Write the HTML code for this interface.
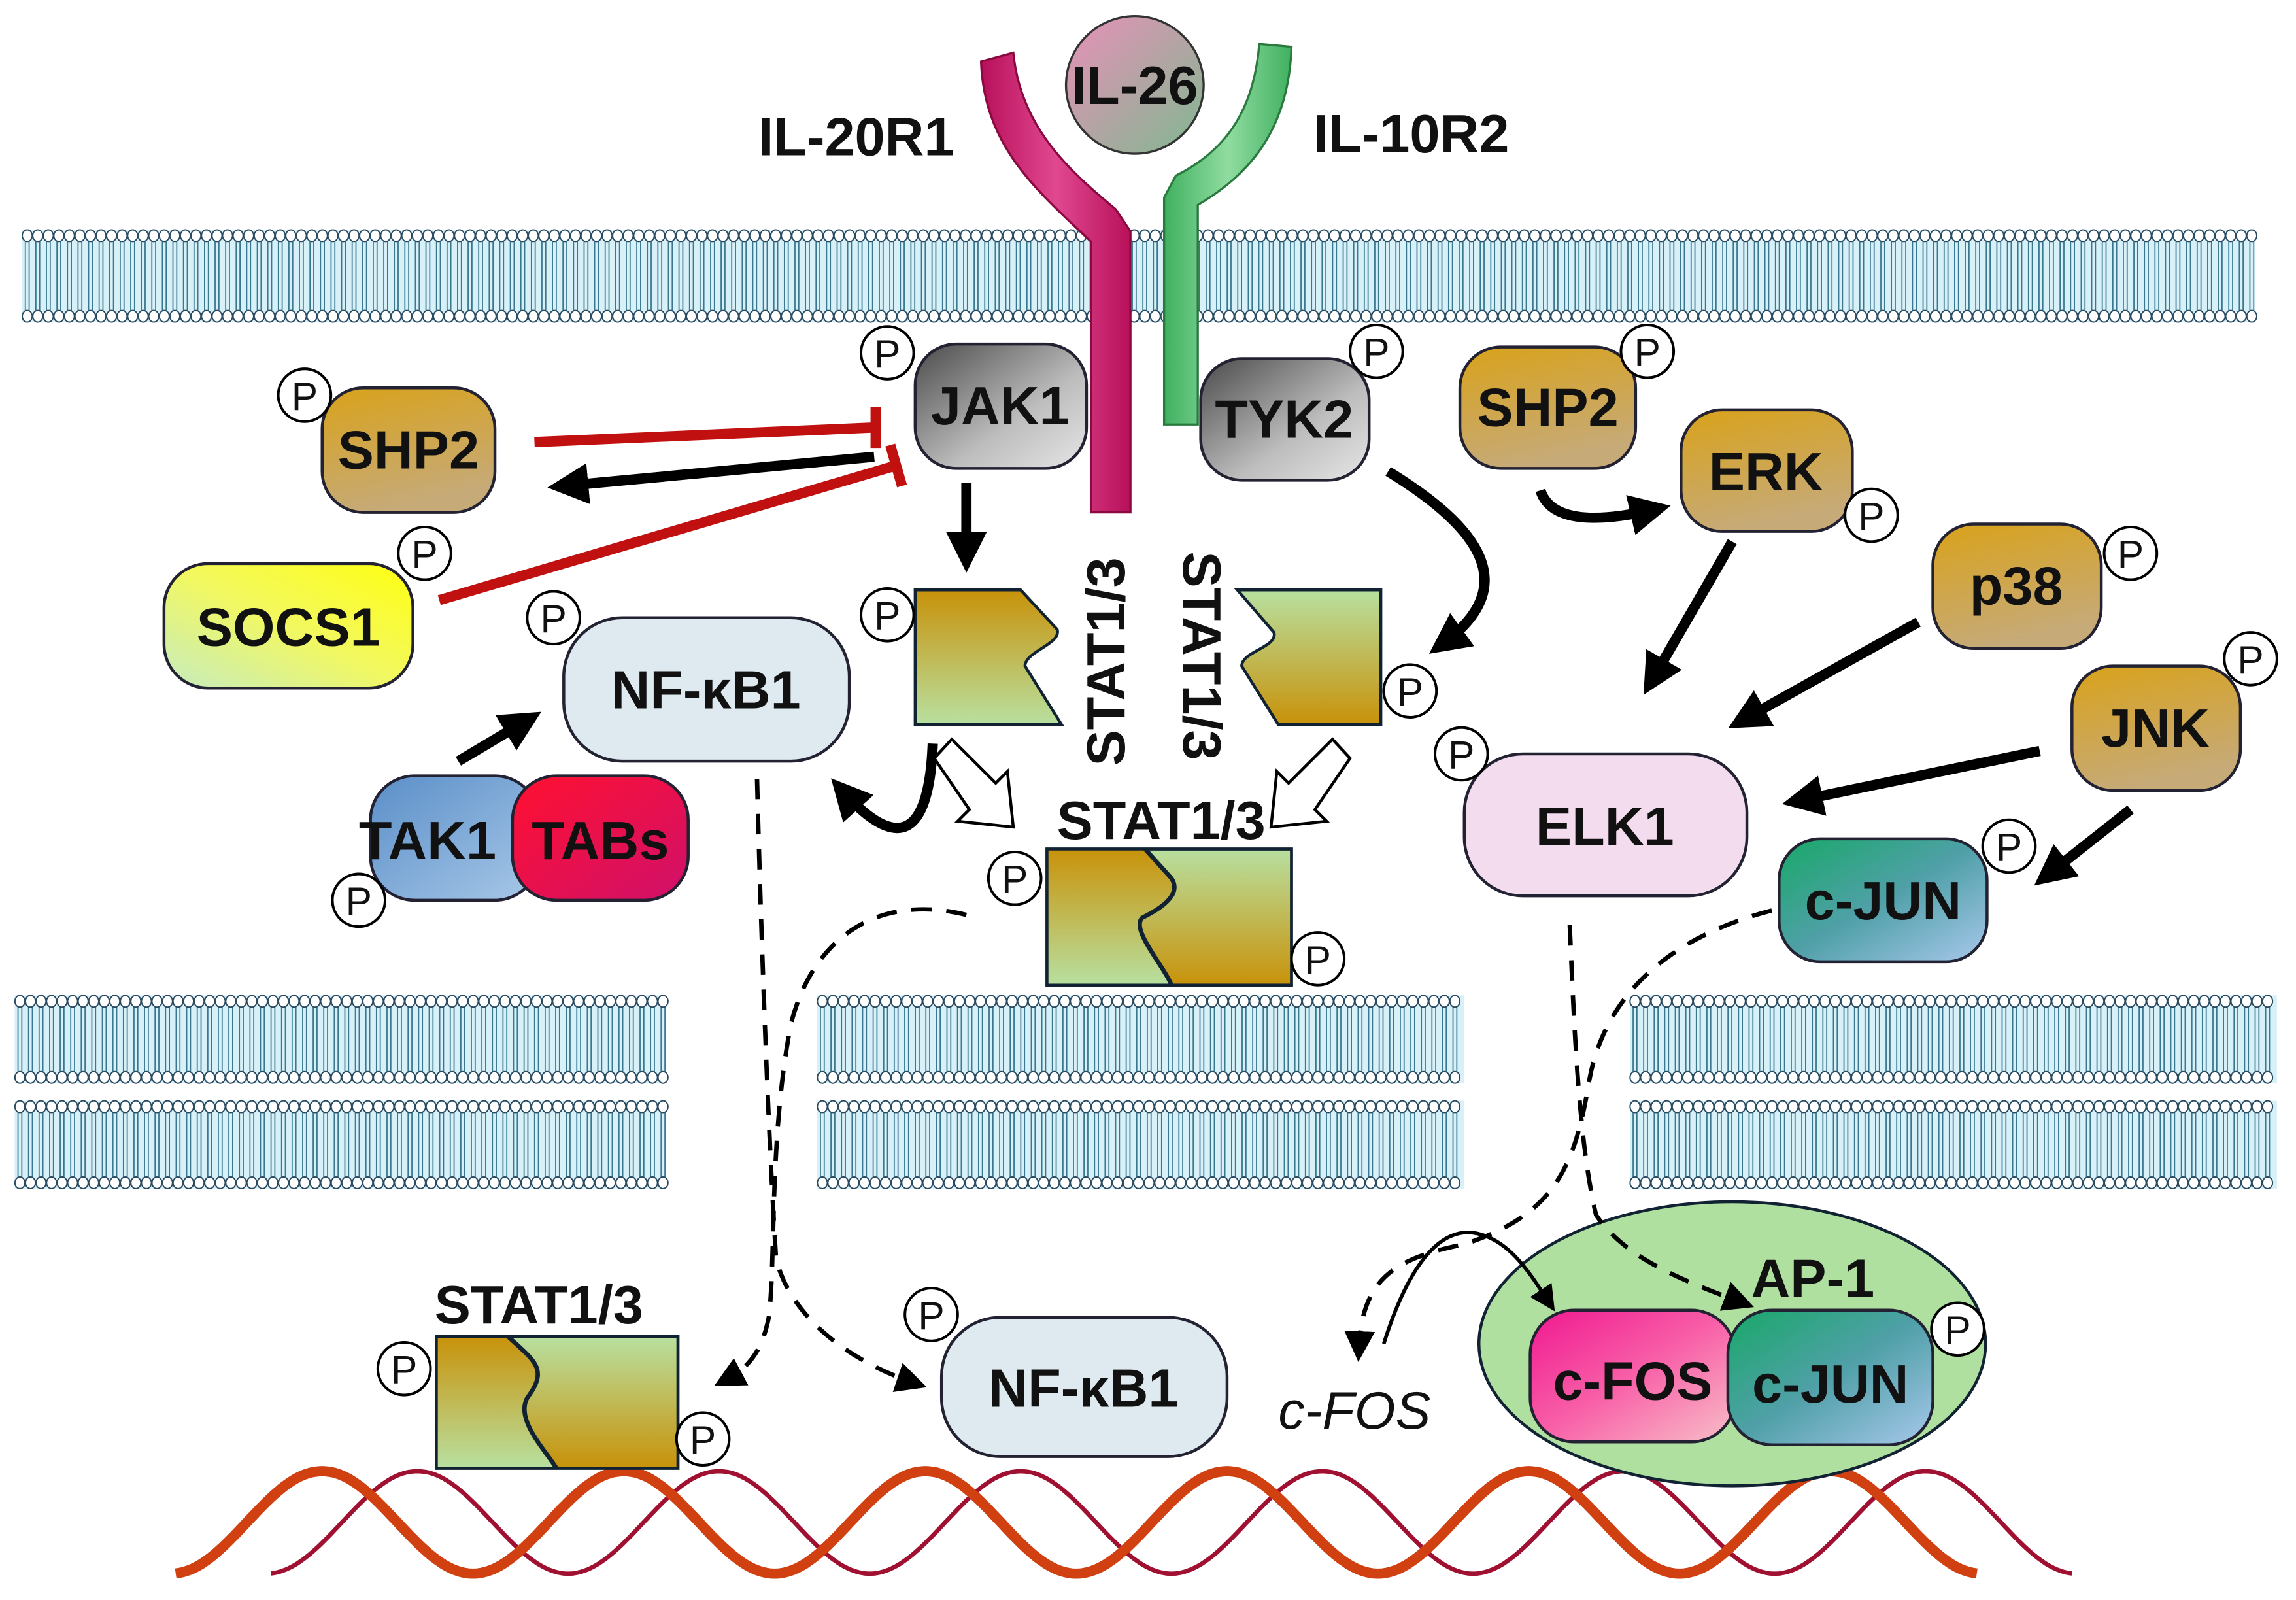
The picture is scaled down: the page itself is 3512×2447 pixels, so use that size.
<!DOCTYPE html>
<html><head><meta charset="utf-8"><style>
html,body{margin:0;padding:0;background:#fff}
svg{display:block}
text{font-family:"Liberation Sans",Arial,sans-serif}
.b{font-weight:bold;font-size:37px;fill:#111}
.p{font-size:27px;fill:#111}
</style></head><body>
<svg id="s" width="3512" height="2447" viewBox="0 0 1568 1093" preserveAspectRatio="none" xmlns="http://www.w3.org/2000/svg">
<defs>
<linearGradient id="gold" x1="0" y1="0" x2="0.3" y2="1"><stop offset="0" stop-color="#d9a21a"/><stop offset="1" stop-color="#c6aa78"/></linearGradient>
<linearGradient id="gray" x1="0" y1="0" x2="1" y2="1"><stop offset="0" stop-color="#4a4a4a"/><stop offset="0.6" stop-color="#bdbdbd"/><stop offset="1" stop-color="#e6e6e6"/></linearGradient>
<linearGradient id="yel" x1="1" y1="0" x2="0" y2="1"><stop offset="0" stop-color="#ffff10"/><stop offset="0.5" stop-color="#f2f860"/><stop offset="1" stop-color="#c6ecc0"/></linearGradient>
<linearGradient id="blu" x1="0" y1="0" x2="1" y2="1"><stop offset="0" stop-color="#5a8ec8"/><stop offset="1" stop-color="#a8c8e8"/></linearGradient>
<linearGradient id="red" x1="0" y1="0" x2="1" y2="1"><stop offset="0" stop-color="#ff1030"/><stop offset="1" stop-color="#d0106a"/></linearGradient>
<linearGradient id="teal" x1="0" y1="0" x2="1" y2="1"><stop offset="0" stop-color="#18a868"/><stop offset="0.5" stop-color="#50a0a8"/><stop offset="1" stop-color="#a8c8ec"/></linearGradient>
<linearGradient id="pink" x1="0" y1="0" x2="1" y2="1"><stop offset="0" stop-color="#f01890"/><stop offset="0.5" stop-color="#f860a8"/><stop offset="1" stop-color="#f8c0c8"/></linearGradient>
<linearGradient id="sgA" x1="0" y1="0" x2="0" y2="1"><stop offset="0" stop-color="#c8920a"/><stop offset="1" stop-color="#b8e0a0"/></linearGradient>
<linearGradient id="sgB" x1="0" y1="0" x2="0" y2="1"><stop offset="0" stop-color="#b8e0a0"/><stop offset="1" stop-color="#c8920a"/></linearGradient>
<linearGradient id="mag" x1="0" y1="0" x2="1" y2="0"><stop offset="0" stop-color="#b8105a"/><stop offset="0.5" stop-color="#e04890"/><stop offset="1" stop-color="#b8105a"/></linearGradient>
<linearGradient id="grn" x1="0" y1="0" x2="1" y2="0"><stop offset="0" stop-color="#40b060"/><stop offset="0.5" stop-color="#90dca0"/><stop offset="1" stop-color="#40b060"/></linearGradient>
<linearGradient id="il26" x1="0" y1="0" x2="1" y2="1"><stop offset="0" stop-color="#e890b8"/><stop offset="1" stop-color="#80b890"/></linearGradient>
<marker id="ah" viewBox="0 0 10 10" refX="6" refY="5" markerWidth="4" markerHeight="4" orient="auto"><path d="M0,0 L10,5 L0,10 z" fill="#000"/></marker>
<marker id="ahs" viewBox="0 0 10 10" refX="6" refY="5" markerWidth="7" markerHeight="7" orient="auto"><path d="M0,0 L10,5 L0,10 z" fill="#000"/></marker>
</defs>
<g id="mem"></g>
<g id="dna"></g>

<!-- AP-1 ellipse (behind arrows) -->
<ellipse cx="1183" cy="918" rx="173" ry="97" fill="#b0e0a0" stroke="#123" stroke-width="2"/>

<!-- receptors -->
<path d="M670,42 L692,36 C697,88 732,118 762,143 L772,158 L772,350 L745,350 L745,165 C708,130 672,100 670,42 z" fill="url(#mag)" stroke="#8a0a40" stroke-width="1.5"/>
<path d="M882,32 L860,30 C856,80 833,105 803,120 L795,135 L795,290 L818,290 L818,140 C852,120 880,90 882,32 z" fill="url(#grn)" stroke="#2a7a40" stroke-width="1.5"/>
<circle cx="775" cy="58" r="47" fill="url(#il26)" stroke="#333" stroke-width="1.5"/>
<text class="b" x="775" y="71" text-anchor="middle">IL-26</text>
<text class="b" x="518" y="106">IL-20R1</text>
<text class="b" x="897" y="104">IL-10R2</text>

<g stroke="#c01010" stroke-width="7" fill="none">
<line x1="365" y1="302" x2="598" y2="292"/><line x1="598" y1="278" x2="598" y2="306"/>
<line x1="300" y1="410" x2="612" y2="318"/><line x1="608" y1="304" x2="616" y2="332"/>
</g>
<g stroke="#000" stroke-width="7" fill="none">
<line x1="597" y1="312" x2="385" y2="332" marker-end="url(#ah)"/>
<line x1="660" y1="330" x2="660" y2="380" marker-end="url(#ah)"/>
<path d="M948,322 C1010,360 1040,400 985,440" marker-end="url(#ah)"/>
<path d="M637,508 C635,560 620,590 575,540" marker-end="url(#ah)"/>
<line x1="313" y1="520" x2="360" y2="492" marker-end="url(#ah)"/>
<path d="M1052,335 C1060,360 1100,355 1130,348" marker-end="url(#ah)"/>
<line x1="1183" y1="370" x2="1128" y2="465" marker-end="url(#ah)"/>
<line x1="1310" y1="425" x2="1190" y2="492" marker-end="url(#ah)"/>
<line x1="1393" y1="513" x2="1228" y2="547" marker-end="url(#ah)"/>
<line x1="1455" y1="553" x2="1398" y2="598" marker-end="url(#ah)"/>
</g>
<path d="M638,518 L650,505 L680,535 L688,527 L692,565 L654,561 L662,553 z" fill="#fff" stroke="#000" stroke-width="2"/>
<path d="M922,518 L910,505 L880,535 L872,527 L868,565 L906,561 L898,553 z" fill="#fff" stroke="#000" stroke-width="2"/>

<g stroke="#000" stroke-width="3" fill="none" stroke-dasharray="14,10">
<path d="M517,532 C520,650 525,780 530,860 C540,900 580,930 625,945" marker-end="url(#ahs)"/>
<path d="M660,625 C600,610 555,640 540,700 C525,780 530,860 525,900 C520,925 510,935 495,943" marker-end="url(#ahs)"/>
<path d="M1072,632 C1075,700 1078,780 1090,830 C1110,860 1150,875 1190,890" marker-end="url(#ahs)"/>
<path d="M1210,622 C1140,640 1095,680 1085,740 C1075,800 1060,830 1000,850 C950,860 930,875 928,922" marker-end="url(#ahs)"/>
</g>
<path d="M945,918 C960,870 980,840 1005,842 C1030,845 1045,870 1058,890" stroke="#000" stroke-width="2.5" fill="none" marker-end="url(#ahs)"/>

<rect x="625" y="235" width="117" height="85" rx="28" fill="url(#gray)" stroke="#223" stroke-width="2"/>
<text class="b" x="683" y="290" text-anchor="middle">JAK1</text>
<rect x="820" y="245" width="115" height="83" rx="28" fill="url(#gray)" stroke="#223" stroke-width="2"/>
<text class="b" x="877" y="299" text-anchor="middle">TYK2</text>
<rect x="220" y="265" width="118" height="85" rx="28" fill="url(#gold)" stroke="#223" stroke-width="2"/>
<text class="b" x="279" y="320" text-anchor="middle">SHP2</text>
<rect x="112" y="385" width="170" height="85" rx="30" fill="url(#yel)" stroke="#223" stroke-width="2"/>
<text class="b" x="197" y="441" text-anchor="middle">SOCS1</text>
<rect x="385" y="422" width="195" height="98" rx="40" fill="#dfe9f0" stroke="#223" stroke-width="2"/>
<text class="b" x="482" y="484" text-anchor="middle">NF-κB1</text>
<rect x="253" y="530" width="115" height="85" rx="30" fill="url(#blu)" stroke="#223" stroke-width="2"/>
<rect x="350" y="530" width="120" height="85" rx="30" fill="url(#red)" stroke="#223" stroke-width="2"/>
<text class="b" x="292" y="587" text-anchor="middle">TAK1</text>
<text class="b" x="410" y="587" text-anchor="middle">TABs</text>
<rect x="997" y="237" width="120" height="83" rx="28" fill="url(#gold)" stroke="#223" stroke-width="2"/>
<text class="b" x="1057" y="291" text-anchor="middle">SHP2</text>
<rect x="1148" y="280" width="117" height="83" rx="28" fill="url(#gold)" stroke="#223" stroke-width="2"/>
<text class="b" x="1206" y="335" text-anchor="middle">ERK</text>
<rect x="1320" y="358" width="115" height="85" rx="28" fill="url(#gold)" stroke="#223" stroke-width="2"/>
<text class="b" x="1377" y="413" text-anchor="middle">p38</text>
<rect x="1415" y="455" width="115" height="85" rx="28" fill="url(#gold)" stroke="#223" stroke-width="2"/>
<text class="b" x="1472" y="510" text-anchor="middle">JNK</text>
<rect x="1000" y="515" width="193" height="97" rx="40" fill="#f4dcef" stroke="#223" stroke-width="2"/>
<text class="b" x="1096" y="577" text-anchor="middle">ELK1</text>
<rect x="1215" y="573" width="142" height="84" rx="28" fill="url(#teal)" stroke="#223" stroke-width="2"/>
<text class="b" x="1286" y="628" text-anchor="middle">c-JUN</text>

<path d="M625,403 L697,403 L722,430 C725,440 700,445 700,455 L725,495 L625,495 z" fill="url(#sgA)" stroke="#123" stroke-width="2"/>
<path d="M943,403 L845,403 L870,432 C873,442 848,445 848,455 L873,495 L943,495 z" fill="url(#sgB)" stroke="#123" stroke-width="2"/>
<text class="b" transform="translate(768,452) rotate(-90)" text-anchor="middle">STAT1/3</text>
<text class="b" transform="translate(808,448) rotate(90)" text-anchor="middle">STAT1/3</text>
<text class="b" x="793" y="573" text-anchor="middle" font-size="38">STAT1/3</text>
<rect x="715" y="580" width="167" height="93" fill="url(#sgB)" stroke="#123" stroke-width="2"/>
<path d="M715,580 L782,580 L800,600 C808,612 790,622 780,627 C772,635 795,660 800,673 L715,673 z" fill="url(#sgA)"/>
<path d="M782,580 L800,600 C808,612 790,622 780,627 C772,635 795,660 800,673" fill="none" stroke="#123" stroke-width="3"/>
<rect x="715" y="580" width="167" height="93" fill="none" stroke="#123" stroke-width="2"/>
<text class="b" x="368" y="904" text-anchor="middle">STAT1/3</text>
<rect x="298" y="913" width="165" height="90" fill="url(#sgB)" stroke="#123" stroke-width="2"/>
<path d="M298,913 L347,913 C365,930 375,935 360,955 C352,970 372,990 380,1003 L298,1003 z" fill="url(#sgA)"/>
<path d="M347,913 C365,930 375,935 360,955 C352,970 372,990 380,1003" fill="none" stroke="#123" stroke-width="3"/>
<rect x="298" y="913" width="165" height="90" fill="none" stroke="#123" stroke-width="2"/>
<rect x="643" y="900" width="195" height="95" rx="40" fill="#dfe9f0" stroke="#223" stroke-width="2"/>
<text class="b" x="740" y="961" text-anchor="middle">NF-κB1</text>
<text x="925" y="976" text-anchor="middle" font-size="36" font-style="italic" fill="#111">c-FOS</text>
<text class="b" x="1238" y="886" text-anchor="middle">AP-1</text>
<rect x="1045" y="895" width="140" height="90" rx="30" fill="url(#pink)" stroke="#223" stroke-width="2"/>
<rect x="1180" y="895" width="140" height="92" rx="30" fill="url(#teal)" stroke="#223" stroke-width="2"/>
<text class="b" x="1115" y="956" text-anchor="middle">c-FOS</text>
<text class="b" x="1250" y="958" text-anchor="middle">c-JUN</text>
<g id="ps"></g>
</svg>
<script>
var NS="http://www.w3.org/2000/svg",s=document.getElementById("s");
function el(p,t,a){var e=document.createElementNS(NS,t);for(var k in a)e.setAttribute(k,a[k]);p.appendChild(e);return e;}
var mem=document.getElementById("mem");
function band(x1,x2,y1,y2){
 el(mem,"rect",{x:x1,y:y1,width:x2-x1,height:y2-y1,fill:"#d8f0f8"});
 var d="";
 for(var x=x1+3.6;x<x2-2;x+=7.2){
  d+="M"+(x-1.3)+","+(y1+8)+"V"+(y2-8)+"M"+(x+1.3)+","+(y1+8)+"V"+(y2-8);
 }
 el(mem,"path",{d:d,stroke:"#3a7890","stroke-width":0.8,fill:"none"});
 for(var x=x1+3.6;x<x2-2;x+=7.2){
  el(mem,"ellipse",{cx:x,cy:y1+4,rx:3.4,ry:4,fill:"#fff",stroke:"#2a4a60","stroke-width":0.9});
  el(mem,"ellipse",{cx:x,cy:y2-4,rx:3.4,ry:4,fill:"#fff",stroke:"#2a4a60","stroke-width":0.9});
 }
}
band(15,1540,157,220);
[[10,455],[558,1000],[1113,1555]].forEach(function(r){band(r[0],r[1],680,740);band(r[0],r[1],752,812);});
var dna=document.getElementById("dna");
function wave(x0,x1,xc,col,w){
 var d="",P=206;
 for(var x=x0;x<=x1;x+=2){var y=1040-35*Math.cos(2*Math.PI*(x-xc)/P);d+=(x==x0?"M":"L")+x+","+y.toFixed(1);}
 el(dna,"path",{d:d,stroke:col,"stroke-width":w,fill:"none"});
}
wave(185,1415,285,"#a01030",3);
wave(120,1350,220,"#d04010",7);
var ps=document.getElementById("ps");
[[606,241],[940,240],[208,270],[290,378],[378,422],[245,615],[606,420],[963,472],[693,600],[900,655],[1125,240],[1278,352],[1455,378],[1537,450],[998,515],[1372,578],[1337,908],[276,935],[480,983],[636,898]].forEach(function(p){
 el(ps,"circle",{cx:p[0],cy:p[1],r:18,fill:"#fff",stroke:"#000","stroke-width":1.8});
 var t=el(ps,"text",{x:p[0],y:p[1]+10,"text-anchor":"middle","class":"p"});t.textContent="P";
});
</script>
</body></html>
